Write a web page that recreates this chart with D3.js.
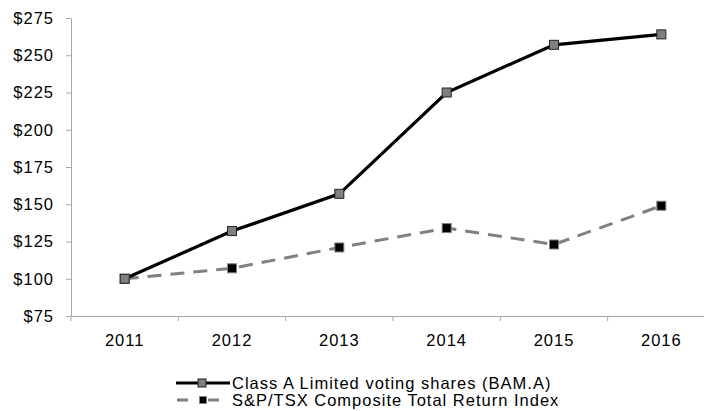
<!DOCTYPE html>
<html>
<head>
<meta charset="utf-8">
<script src="https://cdn.jsdelivr.net/npm/d3@7"></script>
<style>
  body { margin: 0; background: #fff; }
  svg text { font-family: "Liberation Sans", Arial, sans-serif; fill: #000; }
</style>
</head>
<body>
<div id="chart"></div>
<script>
var years = ["2011", "2012", "2013", "2014", "2015", "2016"];
var bamValues = [100, 132, 157, 225, 257, 264];
var tsxValues = [100, 107, 121, 134, 123, 149];
var yTicks = [75, 100, 125, 150, 175, 200, 225, 250, 275];
var seriesNames = ["Class A Limited voting shares (BAM.A)", "S&P/TSX Composite Total Return Index"];

var divWidth = 704,
    divHeight = 411,
    margin = {top: 18, left: 71, bottom: 95, right: -11},
    axisColor = "#a6a6a6";

var svg = d3.select("#chart")
  .append("svg")
  .attr("width", divWidth)
  .attr("height", divHeight);

var xScale = d3.scaleBand()
  .domain(years)
  .range([margin.left, divWidth - margin.right])
  .padding(0);
var yScale = d3.scaleLinear()
  .domain([75, 275])
  .range([divHeight - margin.bottom, margin.top]);

// y axis with $ labels
var yAxis = d3.axisLeft(yScale)
  .tickValues(yTicks)
  .tickSize(5)
  .tickSizeOuter(0)
  .tickPadding(12)
  .tickFormat(d => "$" + d);

var yG = svg.append("g")
  .attr("transform", `translate(${margin.left},0)`)
  .call(yAxis);
yG.select(".domain").attr("stroke", axisColor);
yG.selectAll(".tick line").attr("stroke", axisColor);
yG.selectAll(".tick text")
  .style("font-size", "16.5px")
  .style("letter-spacing", "1px")
  .attr("fill", "#000");

// x axis: labels centred in bands, ticks on band edges
var baseY = yScale(75);
var xAxis = d3.axisBottom(xScale).tickSize(0).tickSizeOuter(0).tickPadding(18);
var xG = svg.append("g")
  .attr("transform", `translate(0,${baseY})`)
  .call(xAxis);
xG.select(".domain").attr("stroke", axisColor);
xG.selectAll(".tick text")
  .style("font-size", "16.5px")
  .style("letter-spacing", "1px")
  .attr("fill", "#000");

svg.append("g").selectAll("line")
  .data(years.concat(["end"]))
  .join("line")
    .attr("x1", (d, i) => xScale.range()[0] + i * xScale.step())
    .attr("x2", (d, i) => xScale.range()[0] + i * xScale.step())
    .attr("y1", baseY)
    .attr("y2", baseY + 5)
    .attr("stroke", axisColor);

var cx = d => xScale(d) + xScale.bandwidth() / 2;

var line = d3.line()
  .x((d, i) => cx(years[i]))
  .y(d => yScale(d));

// S&P/TSX dashed grey line
svg.append("path")
  .datum(tsxValues)
  .attr("d", line)
  .attr("fill", "none")
  .attr("stroke", "#808080")
  .attr("stroke-width", 3)
  .attr("stroke-dasharray", "14,9");

// BAM solid black line
svg.append("path")
  .datum(bamValues)
  .attr("d", line)
  .attr("fill", "none")
  .attr("stroke", "#000")
  .attr("stroke-width", 3.2);

var mk = 9;
svg.append("g").selectAll("rect")
  .data(tsxValues)
  .join("rect")
    .attr("x", (d, i) => cx(years[i]) - mk / 2)
    .attr("y", d => yScale(d) - mk / 2)
    .attr("width", mk)
    .attr("height", mk)
    .attr("fill", "#000")
    .attr("stroke", "#808080")
    .attr("stroke-width", 1);

svg.append("g").selectAll("rect")
  .data(bamValues)
  .join("rect")
    .attr("x", (d, i) => cx(years[i]) - mk / 2)
    .attr("y", d => yScale(d) - mk / 2)
    .attr("width", mk)
    .attr("height", mk)
    .attr("fill", "#808080")
    .attr("stroke", "#222")
    .attr("stroke-width", 1);

// Legend
var legend = svg.append("g");
var legY = [383, 400];

legend.append("line")
  .attr("x1", 176).attr("x2", 230)
  .attr("y1", legY[0]).attr("y2", legY[0])
  .attr("stroke", "#000").attr("stroke-width", 3);
legend.append("rect")
  .attr("x", 198).attr("y", legY[0] - 4)
  .attr("width", 8).attr("height", 8)
  .attr("fill", "#808080").attr("stroke", "#222");

legend.append("line")
  .attr("x1", 177).attr("x2", 220)
  .attr("y1", legY[1]).attr("y2", legY[1])
  .attr("stroke", "#808080").attr("stroke-width", 3)
  .attr("stroke-dasharray", "11,20");
legend.append("rect")
  .attr("x", 199.5).attr("y", legY[1] - 3.5)
  .attr("width", 7).attr("height", 7)
  .attr("fill", "#000").attr("stroke", "#808080");

legend.selectAll("text")
  .data(seriesNames)
  .join("text")
    .attr("x", 232)
    .attr("y", (d, i) => legY[i] + 6)
    .style("font-size", "16.5px")
    .style("letter-spacing", "1px")
    .text(d => d);
</script>
</body>
</html>
